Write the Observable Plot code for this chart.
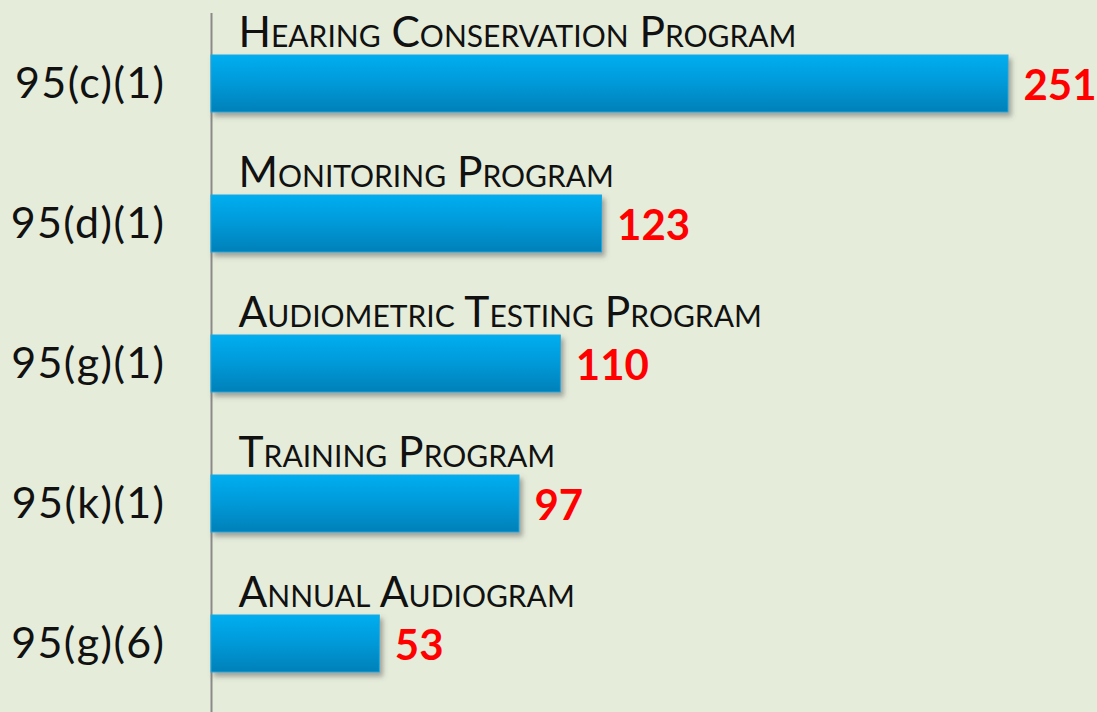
<!DOCTYPE html>
<html><head><meta charset="utf-8">
<script src="https://cdn.jsdelivr.net/npm/d3@7"></script>
<script src="https://cdn.jsdelivr.net/npm/@observablehq/plot@0.6"></script>
<style>
html,body{margin:0;padding:0;background:#e5ecda;}
#chart{width:1097px;height:712px;overflow:hidden;}
</style></head>
<body><div id="chart"></div>
<script>
const codes = ["95(c)(1)", "95(d)(1)", "95(g)(1)", "95(k)(1)", "95(g)(6)"];
const names = ["Hearing Conservation Program", "Monitoring Program", "Audiometric Testing Program", "Training Program", "Annual Audiogram"];
const values = [251, 123, 110, 97, 53];

const data = codes.map((c, i) => ({code: c, name: names[i], value: values[i]}));
const font = "Lato, 'Open Sans', sans-serif";

const chart = Plot.plot({
  width: 1097,
  height: 712,
  marginLeft: 211,
  marginRight: 89,
  marginTop: 0,
  marginBottom: 0,
  style: {background: "#e5ecda", fontFamily: font},
  x: {domain: [0, 251], axis: null},
  y: {domain: codes, axis: null, paddingInner: 0.5955, paddingOuter: 0.324, align: 0.58},
  marks: [
    Plot.ruleX([0], {stroke: "#8a8a8a", strokeWidth: 2, insetTop: 13}),
    Plot.barX(data, {x: "value", y: "code", fill: "url(#barGrad)", stroke: "#1aa8e0", strokeWidth: 1}),
    Plot.text(data, {x: 0, y: "code", text: "name", textAnchor: "start", lineAnchor: "bottom", dx: 27, dy: -37, fontSize: 42.5, fontVariant: "small-caps", fill: "#111"}),
    Plot.text(data, {x: 0, y: "code", text: "code", textAnchor: "end", lineAnchor: "middle", dx: -46, fontSize: 43, fill: "#111", style: "letter-spacing:1.4px"}),
    Plot.text(data, {x: "value", y: "code", text: d => String(d.value), textAnchor: "start", lineAnchor: "middle", dx: 15, dy: 3, fontSize: 42, fontWeight: "bold", fill: "#ff0000"})
  ]
});

const svg = d3.select(chart);
svg.selectAll("text").filter(function(){ return /^95\(/.test(this.textContent); }).style("letter-spacing", "1.4px");
const defs = svg.insert("defs", ":first-child");
const g = defs.append("linearGradient").attr("id", "barGrad").attr("x1", 0).attr("y1", 0).attr("x2", 0).attr("y2", 1);
g.append("stop").attr("offset", "0%").attr("stop-color", "#00aef0");
g.append("stop").attr("offset", "50%").attr("stop-color", "#0099d8");
g.append("stop").attr("offset", "100%").attr("stop-color", "#0080b8");
const f = defs.append("filter").attr("id", "shadow").attr("x", "-5%").attr("y", "-20%").attr("width", "115%").attr("height", "160%");
f.append("feDropShadow").attr("dx", 3).attr("dy", 4).attr("stdDeviation", 2.5).attr("flood-color", "#555").attr("flood-opacity", 0.5);
svg.selectAll("rect").filter(function(){ return this.getAttribute("fill") === "url(#barGrad)" || this.parentNode.getAttribute("fill") === "url(#barGrad)"; }).attr("filter", "url(#shadow)");

document.getElementById("chart").appendChild(chart);
</script>
</body></html>
